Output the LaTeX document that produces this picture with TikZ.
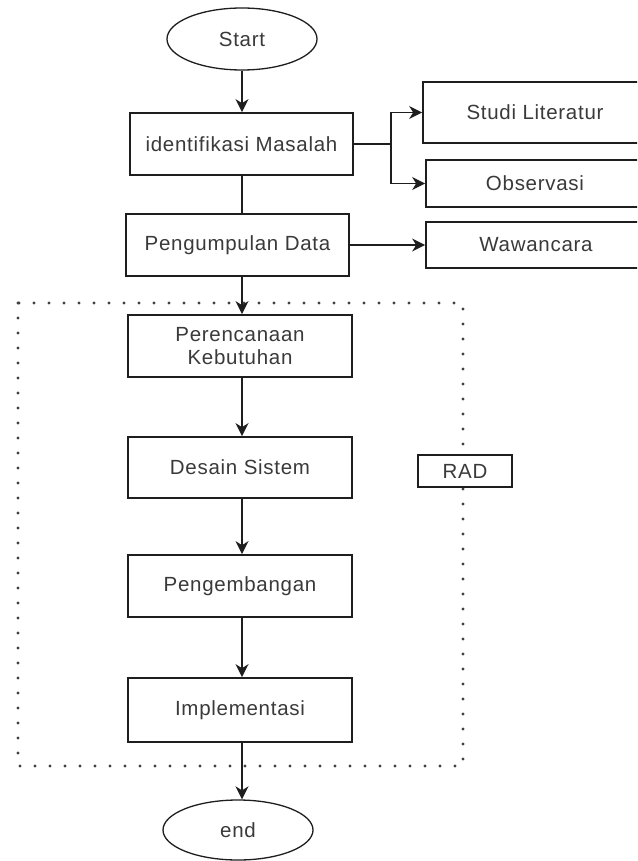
\documentclass[tikz,border=0pt]{standalone}
\usepackage{fontspec}
\setmainfont[LetterSpace=3.5]{Liberation Sans}
\usetikzlibrary{shapes.geometric,arrows.meta}
\definecolor{txt}{HTML}{3A3A3A}
\definecolor{ln}{HTML}{1E1E1E}
\tikzset{
  boxnode/.style={draw=ln,line width=1.7pt,fill=white,rectangle,inner sep=0pt,text=txt,
    font=\fontsize{20.5}{23}\selectfont,align=center},
  ellnode/.style={draw=ln,line width=1.3pt,fill=white,ellipse,inner sep=0pt,text=txt,
    font=\fontsize{20.5}{23}\selectfont},
  arr/.style={draw=ln,line width=1.7pt,-{Stealth[length=13pt,width=13pt,inset=4pt]}},
  plain/.style={draw=ln,line width=1.7pt},
  dots/.style={draw=ln!85,line width=3.4pt,line cap=round,dash pattern=on 0pt off 15pt}
}
\begin{document}
\begin{tikzpicture}[x=1pt,y=-1pt]
\useasboundingbox (0,0) rectangle (637,861);
\clip (0,0) rectangle (637,861);
\fill[white] (0,0) rectangle (637,861);
% dotted RAD frame
\draw[dots] (18,303) rectangle (463,766);
% nodes
\node[ellnode,minimum width=150pt,minimum height=62pt] (start) at (242,39) {Start};
\node[boxnode,minimum width=223pt,minimum height=62pt] (ident) at (241.5,144) {identifikasi Masalah};
\node[boxnode,minimum width=223pt,minimum height=62pt] (peng) at (237.5,245) {Pengumpulan Data};
\node[boxnode,minimum width=227pt,minimum height=61pt] (studi) at (536.5,112.5) {\hspace*{-3pt}Studi Literatur};
\node[boxnode,minimum width=224pt,minimum height=47pt] (obs) at (538,183.5) {\hspace*{-6pt}Observasi};
\node[boxnode,minimum width=224pt,minimum height=46pt] (waw) at (538,245) {\hspace*{-4pt}Wawancara};
\node[boxnode,minimum width=224pt,minimum height=62pt] (peren) at (240,346) {Perencanaan\\Kebutuhan};
\node[boxnode,minimum width=224pt,minimum height=61pt] (desain) at (240,467.5) {Desain Sistem};
\node[boxnode,minimum width=224pt,minimum height=62pt] (pengem) at (240,586) {Pengembangan};
\node[boxnode,minimum width=224pt,minimum height=64pt] (impl) at (240,710) {Implementasi};
\node[ellnode,minimum width=150pt,minimum height=60pt] (end) at (238,830) {end};
\node[boxnode,line width=1.3pt,minimum width=94pt,minimum height=32pt] (rad) at (465,471) {RAD};
% connectors
\draw[arr] (start.south) -- (start.south |- ident.north);
\draw[plain] (ident.south -| start.south) -- (peng.north -| start.south);
\draw[arr] (peng.south -| start.south) -- (peren.north -| start.south);
\draw[plain] (ident.east) -- ++(37,0) coordinate (br);
\draw[arr] (br) |- (studi.west);
\draw[arr] (br) |- (obs.west);
\draw[arr] (peng.east) -- (waw.west);
\draw[arr] (peren.south -| start.south) -- (desain.north -| start.south);
\draw[arr] (desain.south -| start.south) -- (pengem.north -| start.south);
\draw[arr] (pengem.south -| start.south) -- (impl.north -| start.south);
\draw[arr] (impl.south -| start.south) -- (end.north -| start.south);
\end{tikzpicture}
\end{document}
